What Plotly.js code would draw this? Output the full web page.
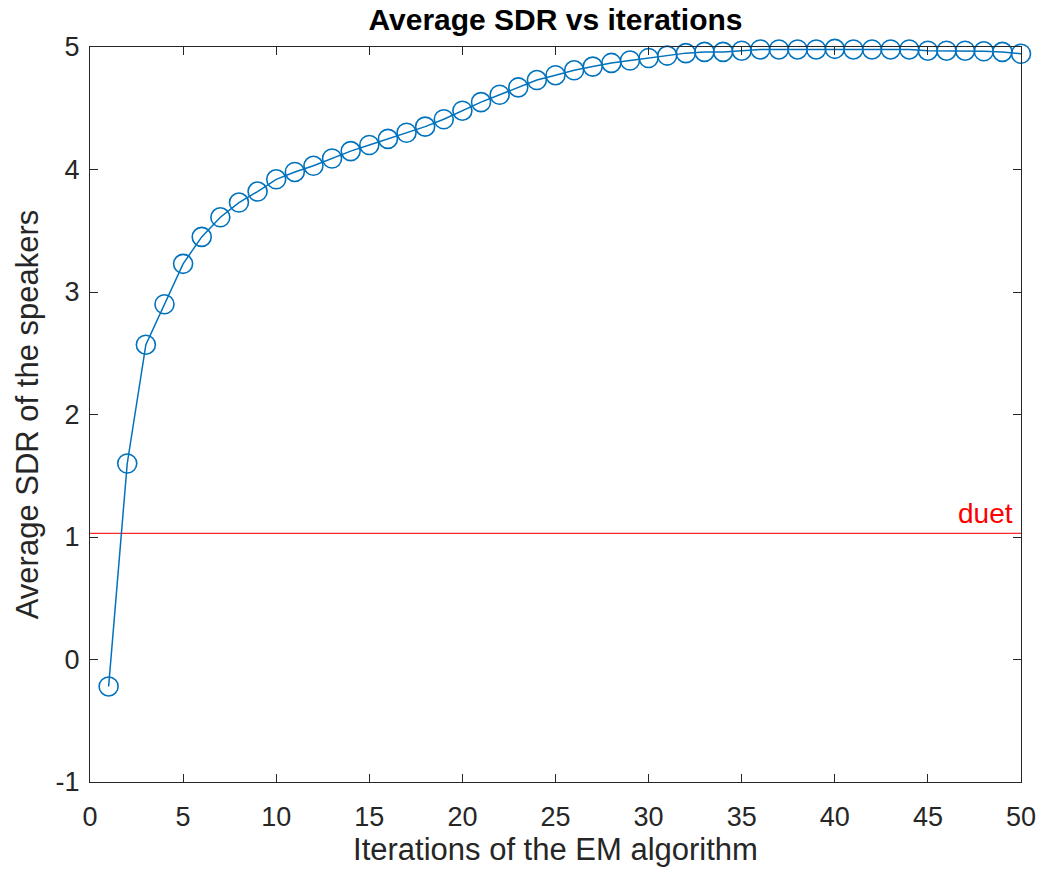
<!DOCTYPE html>
<html>
<head>
<meta charset="utf-8">
<script src="https://cdn.plot.ly/plotly-3.0.1.min.js"></script>
<style>html,body{margin:0;padding:0;background:#fff;}#chart{width:1043px;height:873px;}</style>
</head>
<body>
<div id="chart"></div>
<script>
var iterations = [];
for (var i = 1; i <= 50; i++) iterations.push(i);
var avgSDR = [-0.22, 1.60, 2.57, 2.90, 3.23, 3.45, 3.61, 3.73, 3.82, 3.92,
              3.98, 4.03, 4.09, 4.15, 4.20, 4.25, 4.30, 4.35, 4.41, 4.48,
              4.55, 4.61, 4.67, 4.73, 4.77, 4.81, 4.84, 4.87, 4.89, 4.91,
              4.93, 4.95, 4.96, 4.96, 4.97, 4.98, 4.98, 4.98, 4.98, 4.985,
              4.98, 4.98, 4.98, 4.98, 4.97, 4.97, 4.97, 4.965, 4.96, 4.945];
var duetX = [0, 50];
var duetY = [1.03, 1.03];
var duetLabel = "duet";
var xTicks = [0, 5, 10, 15, 20, 25, 30, 35, 40, 45, 50];
var yTicks = [-1, 0, 1, 2, 3, 4, 5];
var yTickText = ["-1", "0", "1", "2", "3", "4", "5"];

var traces = [
  {
    x: duetX, y: duetY, mode: "lines", type: "scatter",
    line: {color: "rgb(255,40,40)", width: 1.3},
    hoverinfo: "skip", showlegend: false
  },
  {
    x: iterations, y: avgSDR, mode: "lines+markers", type: "scatter",
    line: {color: "#0072BD", width: 1.5},
    marker: {symbol: "circle-open", size: 19, color: "#0072BD", line: {width: 1.6, color: "#0072BD"}},
    cliponaxis: false, showlegend: false
  }
];

var FAM = "Liberation Sans, Arial, Helvetica, sans-serif";
var tickFont = {family: FAM, size: 27, color: "#262626"};
var layout = {
  width: 1043, height: 873,
  margin: {l: 90, r: 22, t: 47, b: 91},
  paper_bgcolor: "#fff", plot_bgcolor: "#fff",
  font: tickFont,
  title: {
    text: "<b>Average SDR vs iterations</b>",
    font: {family: FAM, size: 30, color: "#000"},
    xref: "paper", x: 0.5, xanchor: "center",
    yref: "container", y: 1 - 19/873, yanchor: "middle"
  },
  xaxis: {
    range: [0, 50], tickvals: xTicks, ticktext: xTicks.map(String),
    ticks: "inside", ticklen: 8, tickwidth: 1, tickcolor: "#262626",
    showline: true, linecolor: "#262626", linewidth: 1, mirror: "ticks",
    showgrid: false, zeroline: false,
    tickfont: tickFont, ticklabelstandoff: 11,
    title: {text: "Iterations of the EM algorithm", font: {family: FAM, size: 31, color: "#262626"}, standoff: 5}
  },
  yaxis: {
    range: [-1, 5], tickvals: yTicks, ticktext: yTickText,
    ticks: "inside", ticklen: 8, tickwidth: 1, tickcolor: "#262626",
    showline: true, linecolor: "#262626", linewidth: 1, mirror: "ticks",
    showgrid: false, zeroline: false,
    tickfont: tickFont, ticklabelstandoff: 4,
    title: {text: "Average SDR of the speakers", font: {family: FAM, size: 31, color: "#262626"}, standoff: 7}
  },
  annotations: [{
    x: duetX[1], y: duetY[1], xref: "x", yref: "y",
    text: duetLabel, showarrow: false,
    xanchor: "right", yanchor: "bottom", xshift: -6, yshift: 2,
    font: {family: FAM, size: 28, color: "#ff0000"}
  }]
};
Plotly.newPlot("chart", traces, layout, {displayModeBar: false, staticPlot: true});
</script>
</body>
</html>
